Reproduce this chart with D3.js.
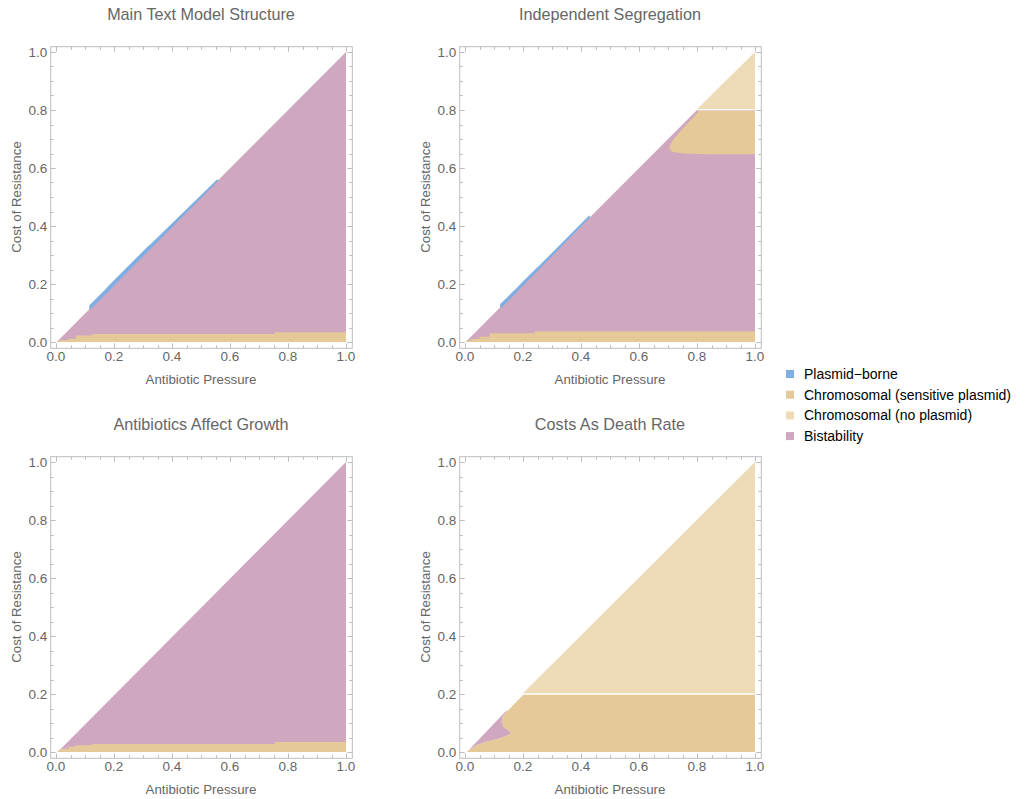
<!DOCTYPE html>
<html>
<head>
<meta charset="utf-8">
<script src="https://cdn.jsdelivr.net/npm/d3@7"></script>
<style>
  body { margin: 0; background: #fff; }
  text { font-family: "Liberation Sans", Arial, sans-serif; }
</style>
</head>
<body>
<div class="chart"></div>
<script>
var legendLabels = ["Plasmid\u2212borne", "Chromosomal (sensitive plasmid)", "Chromosomal (no plasmid)", "Bistability"]
var legendColors = ["#80ade2", "#e6c998", "#eddbb8", "#cfa7be"]

var tickValues = [0, 0.2, 0.4, 0.6, 0.8, 1.0]
var minorTicks = d3.range(0, 1.0001, 0.05)

// region boundaries, [pressure, cost]
var mainBist = [[0.004, 0.002], [1, 1], [1, 0], [0.004, 0]]
var mainBand = [[0.004, 0.004], [0.014, 0.004], [0.014, 0.007], [0.043, 0.007], [0.043, 0.0115], [0.069, 0.0115], [0.069, 0.022], [0.123, 0.022], [0.123, 0.0276], [0.755, 0.0276], [0.755, 0.034], [1, 0.034], [1, 0], [0.004, 0]]
var mainPlasmid = [[0.115, 0.113], [0.115, 0.127], [0.17, 0.181], [0.176, 0.189], [0.32, 0.333], [0.326, 0.337], [0.556, 0.561], [0.56, 0.556], [0.12, 0.113]]

var segBist = [[0.004, 0.002], [0.8, 0.8], [1, 0.8], [1, 0], [0.004, 0]]
var segSens = [[0.808, 0.797], [1, 0.797], [1, 0.647], [0.833, 0.647], [0.753, 0.650], [0.713, 0.656], [0.705, 0.668], [0.707, 0.679], [0.718, 0.697], [0.741, 0.725], [0.775, 0.762]]
var segNone = [[0.8, 0.803], [1, 1], [1, 0.803]]
var segBand = [[0.004, 0.004], [0.02, 0.004], [0.02, 0.01], [0.05, 0.01], [0.05, 0.018], [0.085, 0.018], [0.085, 0.03], [0.24, 0.03], [0.24, 0.037], [1, 0.037], [1, 0], [0.004, 0]]
var segPlasmid = [[0.121, 0.118], [0.121, 0.13], [0.19, 0.198], [0.196, 0.205], [0.247, 0.255], [0.253, 0.26], [0.428, 0.436], [0.432, 0.43], [0.126, 0.118]]

var growthBist = [[0.012, 0.006], [1, 1], [1, 0], [0.012, 0]]
var growthBand = [[0.005, 0.0046], [0.016, 0.0046], [0.016, 0.0115], [0.043, 0.0115], [0.043, 0.018], [0.066, 0.018], [0.066, 0.023], [0.123, 0.023], [0.123, 0.0276], [0.755, 0.0276], [0.755, 0.0345], [1, 0.0345], [1, 0], [0.005, 0]]

var deathNone = [[0.2, 0.203], [1, 1], [1, 0.203]]
var deathSens = [[0.006, 0], [1, 0], [1, 0.197], [0.201, 0.197], [0.144, 0.139], [0.130, 0.122], [0.126, 0.104], [0.132, 0.087], [0.155, 0.070], [0.157, 0.062], [0.121, 0.047], [0.075, 0.036], [0.040, 0.024], [0.017, 0.009], [0.006, 0.001]]
var deathBist = [[0.015, 0.009], [0.144, 0.144], [0.144, 0.139], [0.130, 0.122], [0.126, 0.104], [0.132, 0.087], [0.155, 0.070], [0.157, 0.062], [0.121, 0.047], [0.075, 0.036], [0.040, 0.024], [0.017, 0.009]]

var panels = [
  {title: "Main Text Model Structure", left: 56, bottom: 342,
   layers: [[mainBist, 3], [mainBand, 1], [mainPlasmid, 0]]},
  {title: "Independent Segregation", left: 465, bottom: 342,
   layers: [[segBist, 3], [segSens, 1], [segNone, 2], [segBand, 1], [segPlasmid, 0]], line: 0.8},
  {title: "Antibiotics Affect Growth", left: 56, bottom: 752,
   layers: [[growthBist, 3], [growthBand, 1]]},
  {title: "Costs As Death Rate", left: 465, bottom: 752,
   layers: [[deathSens, 1], [deathNone, 2], [deathBist, 3]], line: 0.2}
]

function makePanels(){
  var width = 1027,
      height = 799,
      size = 290

  var svg = d3.select(".chart").append("svg")
      .attr("width", width)
      .attr("height", height)

  panels.forEach(function(p){
    var x = d3.scaleLinear().domain([0, 1]).range([p.left, p.left + size])
    var y = d3.scaleLinear().domain([0, 1]).range([p.bottom, p.bottom - size])
    var g = svg.append("g")

    var line = d3.line()
        .x(function(d){ return x(d[0]) })
        .y(function(d){ return y(d[1]) })

    p.layers.forEach(function(l){
      g.append("path")
          .attr("d", line(l[0]) + "Z")
          .attr("fill", legendColors[l[1]])
    })

    if (p.line) {
      g.append("line")
          .attr("x1", x(p.line)).attr("x2", x(1))
          .attr("y1", y(p.line)).attr("y2", y(p.line))
          .style("stroke", "#fbf3e6")
          .style("stroke-width", 1.2)
    }

    // frame
    var fx0 = x(-0.02), fx1 = x(1.02), fy0 = y(-0.02), fy1 = y(1.02)
    g.append("rect")
        .attr("x", fx0 + 0.5).attr("y", fy1 + 0.5)
        .attr("width", fx1 - fx0).attr("height", fy0 - fy1)
        .attr("fill", "none")
        .style("stroke", "#bdbdbd")
        .style("stroke-width", 1)

    minorTicks.forEach(function(t){
      var major = tickValues.some(function(v){ return Math.abs(v - t) < 1e-6 })
      var len = major ? 5 : 3
      var xs = Math.round(x(t)) + 0.5, ys = Math.round(y(t)) + 0.5
      var tk = [
        [xs, fy0 + 0.5, xs, fy0 + 0.5 - len],
        [xs, fy1 + 0.5, xs, fy1 + 0.5 + len],
        [fx0 + 0.5, ys, fx0 + 0.5 + len, ys],
        [fx1 + 0.5, ys, fx1 + 0.5 - len, ys]
      ]
      tk.forEach(function(s){
        g.append("line")
            .attr("x1", s[0]).attr("y1", s[1]).attr("x2", s[2]).attr("y2", s[3])
            .style("stroke", "#bdbdbd")
            .style("stroke-width", 1)
      })
    })

    tickValues.forEach(function(t){
      g.append("text")
          .attr("x", x(t)).attr("y", fy0 + 13)
          .attr("text-anchor", "middle")
          .attr("font-size", 13.5)
          .attr("fill", "#666")
          .text(d3.format(".1f")(t))
      g.append("text")
          .attr("x", fx0 - 3).attr("y", y(t) + 4.5)
          .attr("text-anchor", "end")
          .attr("font-size", 13.5)
          .attr("fill", "#666")
          .text(d3.format(".1f")(t))
    })

    g.append("text")
        .attr("x", x(0.5)).attr("y", fy0 + 36)
        .attr("text-anchor", "middle")
        .attr("font-size", 13.3)
        .attr("fill", "#666")
        .text("Antibiotic Pressure")

    g.append("text")
        .attr("transform", "translate(" + (fx0 - 29) + "," + y(0.5) + ") rotate(-90)")
        .attr("text-anchor", "middle")
        .attr("font-size", 13.3)
        .attr("fill", "#666")
        .text("Cost of Resistance")

    g.append("text")
        .attr("x", x(0.5)).attr("y", fy1 - 26)
        .attr("text-anchor", "middle")
        .attr("font-size", 16.2)
        .attr("fill", "#666")
        .text(p.title)
  })

  var legend = svg.append("g").attr("transform", "translate(786,374)")
  legendLabels.forEach(function(name, i){
    legend.append("rect")
        .attr("x", 0).attr("y", i * 20.7 - 4)
        .attr("width", 8).attr("height", 8)
        .attr("fill", legendColors[i])
    legend.append("text")
        .attr("x", 18).attr("y", i * 20.7 + 5)
        .attr("font-size", 14)
        .attr("fill", "#000")
        .text(name)
  })
}

makePanels()
</script>
</body>
</html>
